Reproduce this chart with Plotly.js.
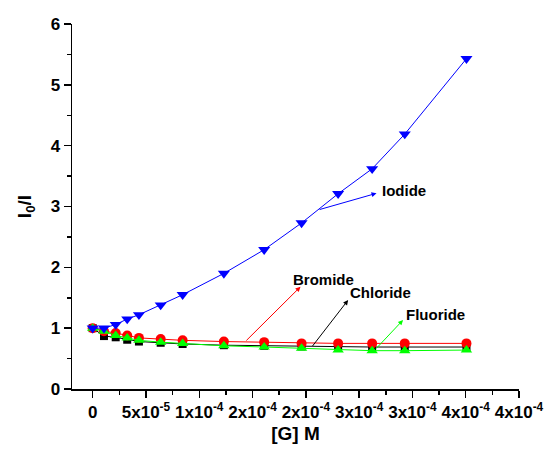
<!DOCTYPE html>
<html>
<head>
<meta charset="utf-8">
<script src="https://cdn.plot.ly/plotly-3.0.1.min.js"></script>
<style>html,body{margin:0;padding:0;background:#fff;}#chart{width:548px;height:451px;}</style>
</head>
<body>
<div id="chart"></div>
<script>
// Concentration of guest [G] (M)
const conc = [0, 1.06e-5, 2.16e-5, 3.24e-5, 4.34e-5, 6.38e-5, 8.44e-5, 1.231e-4, 1.609e-4, 1.96e-4, 2.303e-4, 2.622e-4, 2.928e-4, 3.507e-4];
// I0/I values
const iodide   = [1.00, 1.00, 1.06, 1.15, 1.22, 1.38, 1.55, 1.90, 2.29, 2.73, 3.21, 3.62, 4.19, 5.43];
const bromide  = [1.00, 0.95, 0.92, 0.88, 0.84, 0.82, 0.80, 0.78, 0.77, 0.75, 0.75, 0.75, 0.75, 0.75];
const chloride = [1.00, 0.87, 0.85, 0.81, 0.78, 0.76, 0.74, 0.72, 0.71, 0.70, 0.70, 0.69, 0.69, 0.69];
const fluoride = [1.00, 0.95, 0.88, 0.84, 0.80, 0.77, 0.75, 0.71, 0.69, 0.67, 0.64, 0.63, 0.63, 0.64];
// x tick labels
const xTickVals = [0, 5e-5, 1e-4, 1.5e-4, 2e-4, 2.5e-4, 3e-4, 3.5e-4, 4e-4];
const xTickText = ['0', '5x10<sup>-5</sup>', '1x10<sup>-4</sup>', '2x10<sup>-4</sup>', '2x10<sup>-4</sup>', '3x10<sup>-4</sup>', '3x10<sup>-4</sup>', '4x10<sup>-4</sup>', '4x10<sup>-4</sup>'];

const FONT = 'Liberation Sans, Arial, sans-serif';

function series(y, name, color, symbol, size) {
  return {
    x: conc, y: y, name: name, type: 'scatter', mode: 'lines+markers',
    line: {color: color, width: 1},
    marker: {color: color, symbol: symbol, size: size, line: {width: 0}},
    showlegend: false
  };
}

const data = [
  series(chloride, 'Chloride', '#000000', 'square', 8),
  series(bromide, 'Bromide', '#ff0000', 'circle', 10),
  series(fluoride, 'Fluoride', '#00ff00', 'triangle-up', 10),
  series(iodide, 'Iodide', '#0000ff', 'triangle-down', 10.5)
];

function arrow(x, y, ax, ay, color) {
  return {x: x, y: y, ax: ax, ay: ay, xref: 'x', yref: 'y', axref: 'x', ayref: 'y',
    text: '', showarrow: true, arrowhead: 2, arrowsize: 1, arrowwidth: 1, arrowcolor: color};
}
function label(x, y, text, anchor) {
  return {x: x, y: y, xref: 'x', yref: 'y', text: text, showarrow: false, xanchor: anchor, yanchor: 'middle',
    font: {family: FONT, size: 15, color: '#000', weight: 'bold'}};
}

const layout = {
  width: 548, height: 451,
  margin: {l: 72, r: 29, t: 24, b: 62},
  paper_bgcolor: '#fff', plot_bgcolor: '#fff',
  xaxis: {
    range: [-1.94e-5, 4e-4],
    tickmode: 'array', tickvals: xTickVals, ticktext: xTickText,
    tickfont: {family: FONT, size: 17, color: '#000', weight: 'bold'},
    ticks: 'outside', ticklen: 7, tickwidth: 1.5, tickcolor: '#000',
    minor: {tickmode: 'linear', tick0: 0, dtick: 2.5e-5, ticks: 'outside', ticklen: 4, tickwidth: 1.5, tickcolor: '#000'},
    showline: true, linecolor: '#000', linewidth: 1.5,
    showgrid: false, zeroline: false,
    title: {text: '[G] M', font: {family: FONT, size: 19, color: '#000', weight: 'bold'}, standoff: 6}
  },
  yaxis: {
    range: [0, 6], tickmode: 'linear', tick0: 0, dtick: 1,
    tickfont: {family: FONT, size: 17, color: '#000', weight: 'bold'},
    ticks: 'outside', ticklen: 7, tickwidth: 1.5, tickcolor: '#000',
    minor: {tickmode: 'linear', tick0: 0, dtick: 0.5, ticks: 'outside', ticklen: 4, tickwidth: 1.5, tickcolor: '#000'},
    showline: true, linecolor: '#000', linewidth: 1.5,
    showgrid: false, zeroline: false,
    title: {text: 'I<sub>0</sub>/I', font: {family: FONT, size: 19, color: '#000', weight: 'bold'}, standoff: 14}
  },
  annotations: [
    arrow(2.663e-4, 3.217, 2.115e-4, 2.943, '#0000ff'),
    label(2.694e-4, 3.255, 'Iodide', 'left'),
    arrow(1.950e-4, 1.682, 1.428e-4, 0.773, '#ff0000'),
    label(2.162e-4, 1.808, 'Bromide', 'center'),
    arrow(2.397e-4, 1.463, 2.052e-4, 0.682, '#000000'),
    label(2.699e-4, 1.586, 'Chloride', 'center'),
    arrow(2.912e-4, 1.134, 2.647e-4, 0.641, '#00ff00'),
    label(2.922e-4, 1.217, 'Fluoride', 'left')
  ]
};

Plotly.newPlot('chart', data, layout, {displayModeBar: false, staticPlot: true});
</script>
</body>
</html>
